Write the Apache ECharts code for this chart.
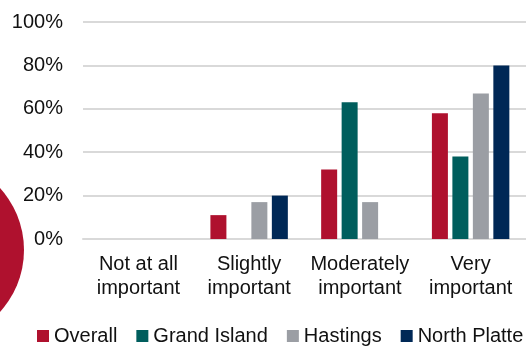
<!DOCTYPE html>
<html>
<head>
<meta charset="utf-8">
<script src="https://cdn.jsdelivr.net/npm/echarts@6/dist/echarts.min.js"></script>
<style>
  html, body { margin: 0; padding: 0; background: #fff; }
  #chart { width: 526px; height: 348px; }
</style>
</head>
<body>
<div id="chart"></div>
<script>
  // categories and values (percent)
  const categories = ['Not at all\nimportant', 'Slightly\nimportant', 'Moderately\nimportant', 'Very\nimportant']
  const overall = [0, 11, 32, 58]
  const grandIsland = [0, 0, 63, 38]
  const hastings = [0, 17, 17, 67]
  const northPlatte = [0, 20, 0, 80]
  const seriesNames = ['Overall', 'Grand Island', 'Hastings', 'North Platte']
  const colors = ['#AF112E', '#005E5D', '#9B9EA4', '#002856']

  const chart = echarts.init(document.getElementById('chart'))
  const font = 'Liberation Sans, Arial, sans-serif'

  chart.setOption({
    color: colors,
    animation: false,
    textStyle: { fontFamily: font },
    graphic: [{
      type: 'circle',
      shape: { cx: -68, cy: 250, r: 92 },
      style: { fill: '#AF112E' },
      z: 0
    }],
    legend: {
      data: seriesNames,
      left: 37,
      top: 326,
      padding: 0,
      itemWidth: 12,
      itemHeight: 12,
      itemGap: 19,
      icon: 'rect',
      textStyle: { fontSize: 20, color: '#111', fontFamily: font }
    },
    grid: { left: 83, width: 446, top: 22, bottom: 109, containLabel: false },
    xAxis: {
      type: 'category',
      data: categories,
      axisTick: { show: false },
      axisLine: { lineStyle: { color: '#D9D9D9', width: 2 } },
      axisLabel: { fontSize: 20, color: '#111', lineHeight: 24, margin: 13, interval: 0, fontFamily: font }
    },
    yAxis: {
      type: 'value',
      min: 0,
      max: 100,
      interval: 20,
      axisLabel: { formatter: '{value}%', fontSize: 20, color: '#111', margin: 20, fontFamily: font },
      splitLine: { lineStyle: { color: '#D9D9D9', width: 2 } }
    },
    series: [
      { name: seriesNames[0], type: 'bar', data: overall, barWidth: 16, barGap: '28%' },
      { name: seriesNames[1], type: 'bar', data: grandIsland, barWidth: 16, barGap: '28%' },
      { name: seriesNames[2], type: 'bar', data: hastings, barWidth: 16, barGap: '28%' },
      { name: seriesNames[3], type: 'bar', data: northPlatte, barWidth: 16, barGap: '28%' }
    ]
  })
</script>
</body>
</html>
